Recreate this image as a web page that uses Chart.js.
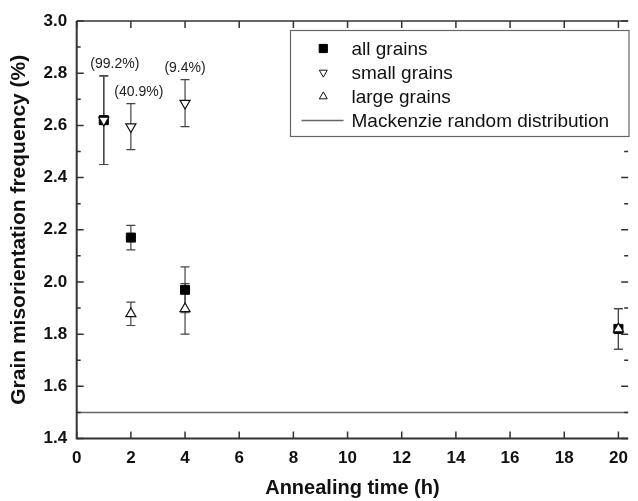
<!DOCTYPE html>
<html>
<head>
<meta charset="utf-8">
<script src="https://cdn.jsdelivr.net/npm/chart.js@4/dist/chart.umd.min.js"></script>
<style>
  html, body { margin: 0; padding: 0; background: #fff; overflow: hidden; }
  canvas { display: block; }
</style>
</head>
<body>
<canvas id="c" width="638" height="501"></canvas>
<script>
// ---- data ----
const TIMES_ALL = [1, 2, 4, 20];
const ALL_GRAINS = [2.62, 2.17, 1.97, 1.82];
const ALL_ERR = [0.17, 0.047, 0.088, 0.078];

const TIMES_SMALL = [1, 2, 4];
const SMALL_GRAINS = [2.62, 2.595, 2.685];
const SMALL_ERR = [0.17, 0.088, 0.09];
const SMALL_PCT = ['(99.2%)', '(40.9%)', '(9.4%)'];

const TIMES_LARGE = [2, 4, 20];
const LARGE_GRAINS = [1.878, 1.897, 1.82];
const LARGE_ERR = [0.045, 0.097, 0.078];

const MACKENZIE = 1.5;

const X_MIN = 0, X_MAX = 20.36, X_STEP = 2;
const Y_MIN = 1.4, Y_MAX = 3.0, Y_STEP = 0.2;

const LABELS = ['all grains', 'small grains', 'large grains', 'Mackenzie random distribution'];
const X_TITLE = 'Annealing time (h)';
const Y_TITLE = 'Grain misorientation frequency (%)';

// ---- build datasets ----
const pts = (xs, ys, es) => xs.map((x, i) => ({ x: x, y: ys[i], e: es ? es[i] : 0 }));

const datasets = [
  { label: LABELS[0], data: pts(TIMES_ALL, ALL_GRAINS, ALL_ERR), pointStyle: 'rect', pointRadius: 6.4,
    backgroundColor: '#000', borderColor: '#000', borderWidth: 1, showLine: false, order: 3 },
  { label: LABELS[1], data: pts(TIMES_SMALL, SMALL_GRAINS, SMALL_ERR), pointStyle: 'triangle', pointRotation: 180,
    pointRadius: 5.8, backgroundColor: '#fff', borderColor: '#111', borderWidth: 1.2, showLine: false, order: 2 },
  { label: LABELS[2], data: pts(TIMES_LARGE, LARGE_GRAINS, LARGE_ERR), pointStyle: 'triangle',
    pointRadius: 5.8, backgroundColor: '#fff', borderColor: '#111', borderWidth: 1.2, showLine: false, order: 1 },
  { type: 'line', label: LABELS[3], data: [{ x: X_MIN, y: MACKENZIE }, { x: X_MAX, y: MACKENZIE }],
    borderColor: '#666', borderWidth: 1.5, pointRadius: 0, fill: false, order: 4 }
];

const AXIS_COLOR = '#333';

const decorPlugin = {
  id: 'decor',
  beforeDatasetsDraw(chart) {
    const ctx = chart.ctx, xs = chart.scales.x, ys = chart.scales.y;
    ctx.save();
    ctx.strokeStyle = '#444';
    ctx.lineWidth = 1.2;
    [0, 1, 2].forEach(di => {
      chart.data.datasets[di].data.forEach(p => {
        const px = xs.getPixelForValue(p.x);
        const top = ys.getPixelForValue(p.y + p.e);
        const bot = ys.getPixelForValue(p.y - p.e);
        ctx.beginPath();
        ctx.moveTo(px, top); ctx.lineTo(px, bot);
        ctx.moveTo(px - 4.5, top); ctx.lineTo(px + 4.5, top);
        ctx.moveTo(px - 4.5, bot); ctx.lineTo(px + 4.5, bot);
        ctx.stroke();
      });
    });
    ctx.restore();
  },
  afterDraw(chart) {
    const ctx = chart.ctx, xs = chart.scales.x, ys = chart.scales.y;
    const a = chart.chartArea;
    ctx.save();
    // spines
    ctx.strokeStyle = AXIS_COLOR;
    ctx.lineWidth = 2;
    ctx.beginPath();
    ctx.moveTo(a.left, a.top); ctx.lineTo(a.left, a.bottom); ctx.lineTo(a.right, a.bottom);
    ctx.stroke();
    ctx.lineWidth = 1.5;
    ctx.beginPath();
    ctx.moveTo(a.left, a.top); ctx.lineTo(a.right, a.top);
    ctx.stroke();
    // y ticks (major + minor), inward on both sides
    ctx.lineWidth = 1.5;
    for (let v = Y_MIN; v <= Y_MAX + 1e-9; v += Y_STEP / 2) {
      const k = Math.round((v - Y_MIN) / (Y_STEP / 2));
      const major = k % 2 === 0;
      const len = major ? 7 : 4;
      const py = ys.getPixelForValue(v);
      ctx.beginPath();
      ctx.moveTo(a.left, py); ctx.lineTo(a.left + len, py);
      ctx.moveTo(a.right, py); ctx.lineTo(a.right - len, py);
      ctx.stroke();
    }
    // x ticks, inward on bottom and top
    for (let v = X_MIN; v <= X_MAX + 1e-9; v += X_STEP) {
      const px = xs.getPixelForValue(v);
      ctx.beginPath();
      ctx.moveTo(px, a.bottom); ctx.lineTo(px, a.bottom - 7);
      ctx.moveTo(px, a.top); ctx.lineTo(px, a.top + 7);
      ctx.stroke();
    }
    // percentage labels above small-grain error bars
    const dxs = [11, 8, 0];
    ctx.fillStyle = '#222';
    ctx.font = '14px "Liberation Sans", Arial, sans-serif';
    ctx.textAlign = 'center';
    ctx.textBaseline = 'middle';
    chart.data.datasets[1].data.forEach((p, i) => {
      const px = xs.getPixelForValue(p.x);
      const top = ys.getPixelForValue(p.y + p.e);
      ctx.fillText(SMALL_PCT[i], px + dxs[i], top - 12);
    });
    // legend box
    const L = 290.5, T = 30.5, R = 629, B = 136.5;
    ctx.fillStyle = '#fff';
    ctx.fillRect(L, T, R - L, B - T);
    ctx.strokeStyle = '#666';
    ctx.lineWidth = 1.2;
    ctx.strokeRect(L, T, R - L, B - T);
    const symX = 323.3, textX = 351.5;
    ctx.font = '19px "Liberation Sans", Arial, sans-serif';
    ctx.textAlign = 'left';
    ctx.textBaseline = 'middle';
    chart.data.datasets.forEach((ds, i) => {
      const ry = T + 18 + i * 24;
      if (ds.type === 'line') {
        ctx.strokeStyle = ds.borderColor;
        ctx.lineWidth = ds.borderWidth;
        ctx.beginPath();
        ctx.moveTo(301.5, ry); ctx.lineTo(343.5, ry);
        ctx.stroke();
      } else {
        ctx.fillStyle = ds.backgroundColor;
        ctx.strokeStyle = ds.borderColor;
        ctx.lineWidth = 1;
        Chart.helpers.drawPoint(ctx, {
          pointStyle: ds.pointStyle,
          radius: ds.pointStyle === 'rect' ? 5.8 : 4.6,
          rotation: ds.pointRotation || 0,
          borderWidth: 1
        }, symX, ry);
      }
      ctx.fillStyle = '#111';
      ctx.fillText(ds.label, textX, ry + 1);
    });
    ctx.restore();
  }
};

new Chart(document.getElementById('c'), {
  type: 'scatter',
  data: { datasets: datasets },
  options: {
    responsive: false,
    animation: false,
    devicePixelRatio: 1,
    layout: { padding: { top: 21, left: 0, right: 0, bottom: 0 } },
    plugins: { legend: { display: false }, tooltip: { enabled: false } },
    scales: {
      x: {
        type: 'linear', min: X_MIN, max: X_MAX,
        grid: { display: false, drawTicks: false },
        border: { display: false },
        ticks: { stepSize: X_STEP, includeBounds: false, autoSkip: false, maxRotation: 0,
                 padding: 10, color: '#111',
                 font: { family: '"Liberation Sans", Arial, sans-serif', size: 17, weight: 'bold' } },
        title: { display: true, text: X_TITLE, color: '#111', padding: { top: 0, bottom: 1 },
                 font: { family: '"Liberation Sans", Arial, sans-serif', size: 20, weight: 'bold' } },
        afterFit(scale) { scale.height = 62.5; }
      },
      y: {
        type: 'linear', min: Y_MIN, max: Y_MAX,
        grid: { display: false, drawTicks: false },
        border: { display: false },
        ticks: { stepSize: Y_STEP, includeBounds: false, padding: 9.5, color: '#111',
                 callback: v => Number(v).toFixed(1),
                 font: { family: '"Liberation Sans", Arial, sans-serif', size: 17, weight: 'bold' } },
        title: { display: true, text: Y_TITLE, color: '#111', padding: { top: 7, bottom: 0 },
                 font: { family: '"Liberation Sans", Arial, sans-serif', size: 21, weight: 'bold' } },
        afterFit(scale) { scale.width = 76.7; }
      }
    }
  },
  plugins: [decorPlugin]
});
</script>
</body>
</html>
